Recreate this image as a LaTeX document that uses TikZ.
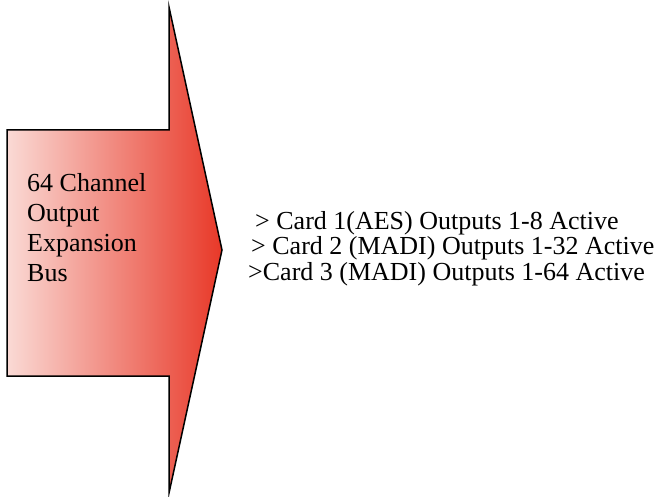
\documentclass[tikz,border=0pt]{standalone}
\usepackage{fontspec}
\setmainfont{Liberation Serif}
\usetikzlibrary{positioning}
\definecolor{palepink}{RGB}{250, 218, 213}
\definecolor{tipred}{RGB}{232, 56, 40}

\begin{document}
\begin{tikzpicture}[x=1pt, y=-1pt,
          busarrow/.style={draw=black, line width=1.5pt,
                     left color=palepink, right color=tipred},
          buslab/.style={font=\fontsize{26}{30}\selectfont,
                     align=left, inner sep=0pt, anchor=north west},
          cardlab/.style={font=\fontsize{26}{25}\selectfont,
                     inner sep=0pt, anchor=base west},
      ]
      \useasboundingbox (0, 0) rectangle (667, 497);

      % Expansion bus arrow
      \path[busarrow] (7, 130) -- (169, 130) -- (169, 7)
          -- (222, 250) -- (169, 493) -- (169, 376)
          -- (7, 376) -- cycle;
      \node[buslab] (bus) at (27, 173)
          {64 Channel\\Output\\Expansion\\Bus};

      % Active outputs per card
      \node[cardlab] (card1) at (255, 230)
          {> Card 1(AES) Outputs 1-8 Active};
      \node[cardlab] (card2) at (251, 255)
          {> Card 2 (MADI) Outputs 1-32 Active};
      \node[cardlab] (card3) at (248, 280)
          {>Card 3 (MADI) Outputs 1-64 Active};
      \end{tikzpicture}
\end{document}
